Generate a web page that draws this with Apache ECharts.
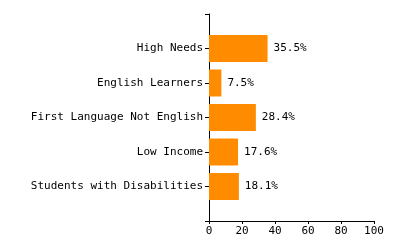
<!DOCTYPE html>
<html>
<head>
<meta charset="utf-8">
<script src="https://cdn.jsdelivr.net/npm/echarts@6/dist/echarts.min.js"></script>
<style>
html,body{margin:0;padding:0;background:#fff;}
#chart{width:400px;height:250px;}
</style>
</head>
<body>
<div id="chart"></div>
<script>
var categories = ["High Needs", "English Learners", "First Language Not English", "Low Income", "Students with Disabilities"];
var values = [35.5, 7.5, 28.4, 17.6, 18.1];
var xTicks = [0, 20, 40, 60, 80, 100];

var FONT = "DejaVu Sans Mono";
// pad with empty categories at both ends so ticks sit as in the original
var yCats = [""].concat(categories).concat([""]);
var yData = [null].concat(values).concat([null]);

var chart = echarts.init(document.getElementById('chart'), null, {renderer: 'canvas'});
chart.setOption({
  animation: false,
  grid: {left: 209, right: 26, top: 14, bottom: 29, containLabel: false},
  xAxis: {
    type: 'value',
    min: xTicks[0],
    max: xTicks[xTicks.length - 1],
    interval: xTicks[1] - xTicks[0],
    splitLine: {show: false},
    axisLine: {show: true, lineStyle: {color: '#000', width: 1}},
    axisTick: {show: true, length: 3, lineStyle: {color: '#000'}},
    axisLabel: {color: '#000', fontFamily: FONT, fontSize: 11, margin: 5}
  },
  yAxis: {
    type: 'category',
    data: yCats,
    inverse: true,
    boundaryGap: false,
    axisLine: {show: true, lineStyle: {color: '#000', width: 1}},
    axisTick: {show: true, length: 4, alignWithLabel: true, lineStyle: {color: '#000'}},
    axisLabel: {color: '#000', fontFamily: FONT, fontSize: 11, margin: 6, interval: 0},
    splitLine: {show: false}
  },
  series: [{
    type: 'bar',
    data: yData,
    barWidth: 27,
    itemStyle: {color: '#FF8C00'},
    label: {
      show: true,
      position: 'right',
      distance: 6,
      color: '#000',
      fontFamily: FONT,
      fontSize: 11,
      formatter: function (p) { return p.value.toFixed(1) + '%'; }
    }
  }]
});
</script>
</body>
</html>
